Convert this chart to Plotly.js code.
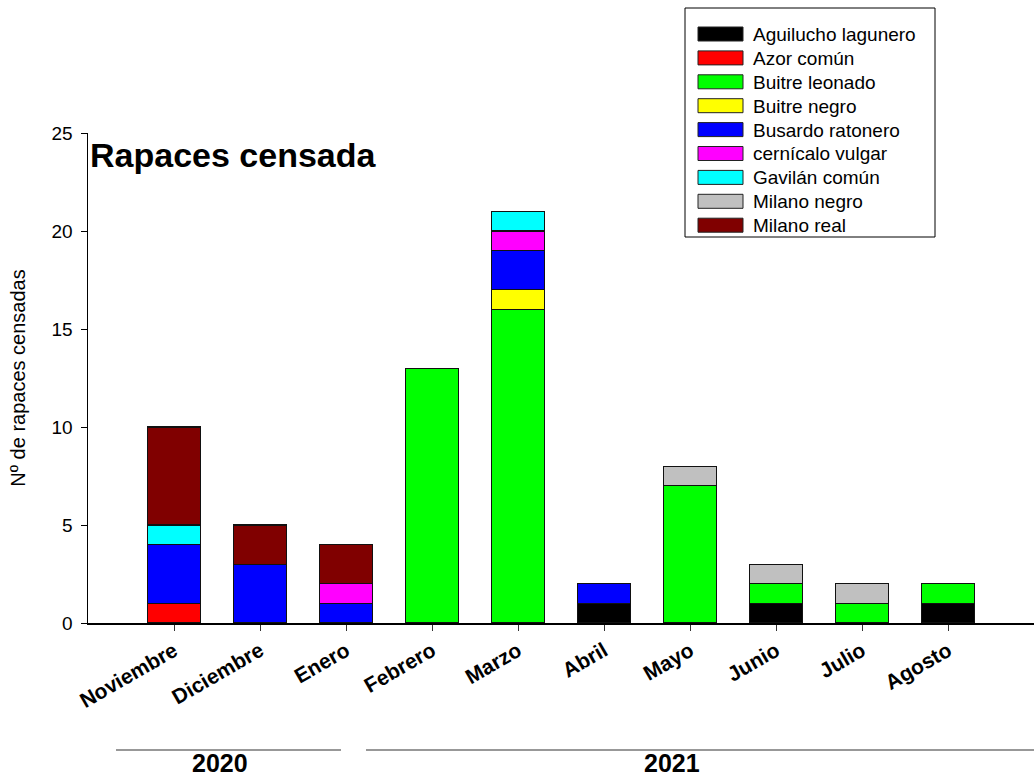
<!DOCTYPE html>
<html>
<head>
<meta charset="utf-8">
<script src="https://cdn.plot.ly/plotly-3.0.1.min.js"></script>
<style>html,body{margin:0;padding:0;background:#fff;}#chart{width:1034px;height:778px;}</style>
</head>
<body>
<div id="chart"></div>
<script>
const months = ["Noviembre","Diciembre","Enero","Febrero","Marzo","Abril","Mayo","Junio","Julio","Agosto"];
const species = ["Aguilucho lagunero","Azor común","Buitre leonado","Buitre negro","Busardo ratonero","cernícalo vulgar","Gavilán común","Milano negro","Milano real"];
const colors = ["#000000","#ff0000","#00ff00","#ffff00","#0000ff","#ff00ff","#00ffff","#c0c0c0","#800000"];
const aguilucho = [0,0,0,0,0,1,0,1,0,1];
const azor      = [1,0,0,0,0,0,0,0,0,0];
const leonado   = [0,0,0,13,16,0,7,1,1,1];
const bnegro    = [0,0,0,0,1,0,0,0,0,0];
const busardo   = [3,3,1,0,2,1,0,0,0,0];
const cernicalo = [0,0,1,0,1,0,0,0,0,0];
const gavilan   = [1,0,0,0,1,0,0,0,0,0];
const mnegro    = [0,0,0,0,0,0,1,1,1,0];
const mreal     = [5,2,2,0,0,0,0,0,0,0];
const series = [aguilucho, azor, leonado, bnegro, busardo, cernicalo, gavilan, mnegro, mreal];
const years = ["2020","2021"];

const FONT = 'Arial, "Liberation Sans", sans-serif';
const W = 1034, H = 778, L = 88, R = 0, T = 133, B = 155;
const pw = W - L - R, ph = H - T - B;
const px = x => (x - L) / pw;
const py = y => (H - B - y) / ph;

const traces = series.map((vals, i) => ({
  type: 'bar', x: months, y: vals, name: species[i],
  marker: {color: colors[i], line: {color: '#111', width: 1.3}},
  width: 0.62, showlegend: false, hoverinfo: 'x+y+name'
}));

const shapes = [];
const annotations = [];
// legend box
shapes.push({type:'rect', xref:'paper', yref:'paper', x0:px(685), x1:px(935), y0:py(237), y1:py(8),
  line:{color:'#000', width:1}, fillcolor:'#fff', layer:'above'});
species.forEach((s, i) => {
  const cy = 34 + i * 23.9;
  shapes.push({type:'rect', xref:'paper', yref:'paper', x0:px(698), x1:px(743), y0:py(cy+7), y1:py(cy-7),
    line:{color:'#222', width:1}, fillcolor:colors[i], layer:'above'});
  annotations.push({xref:'paper', yref:'paper', x:px(751), y:py(cy+0.5), xanchor:'left', yanchor:'middle',
    text:s, showarrow:false, font:{family:FONT, size:19, color:'#000'}});
});
// title
annotations.push({xref:'paper', yref:'paper', x:px(88), y:py(155), xanchor:'left', yanchor:'middle',
  text:'<b>Rapaces censada</b>', showarrow:false, font:{family:FONT, size:34, color:'#000'}});
// year groups
shapes.push({type:'line', xref:'paper', yref:'paper', x0:px(116), x1:px(341), y0:py(750), y1:py(750), line:{color:'#333', width:1.2}});
shapes.push({type:'line', xref:'paper', yref:'paper', x0:px(366), x1:px(1034), y0:py(750), y1:py(750), line:{color:'#333', width:1.2}});
annotations.push({xref:'paper', yref:'paper', x:px(220), y:py(778), xanchor:'center', yanchor:'bottom',
  text:'<b>'+years[0]+'</b>', showarrow:false, font:{family:FONT, size:25, color:'#000'}, borderpad:0});
annotations.push({xref:'paper', yref:'paper', x:px(672), y:py(778), xanchor:'center', yanchor:'bottom',
  text:'<b>'+years[1]+'</b>', showarrow:false, font:{family:FONT, size:25, color:'#000'}, borderpad:0});

const layout = {
  width: W, height: H,
  margin: {l: L, r: R, t: T, b: B, pad: 0},
  paper_bgcolor: '#fff', plot_bgcolor: '#fff',
  barmode: 'stack',
  showlegend: false,
  font: {family: FONT, color: '#000'},
  xaxis: {
    type: 'category', range: [-1, 10], showgrid: false, zeroline: false,
    showline: true, linecolor: '#000', linewidth: 1.5,
    ticks: 'outside', ticklen: 6, tickwidth: 1, tickcolor: '#333',
    tickangle: -30, tickfont: {family: FONT, size: 21, weight: 'bold', color: '#000'},
    fixedrange: true
  },
  yaxis: {
    range: [0, 25], tickvals: [0,5,10,15,20,25], showgrid: false, zeroline: false,
    showline: true, linecolor: '#000', linewidth: 1.5,
    ticks: 'outside', ticklen: 6, tickwidth: 1, tickcolor: '#000',
    ticklabelstandoff: 4,
    tickfont: {family: FONT, size: 19, color: '#000'},
    title: {text: 'Nº de rapaces censadas', font: {family: FONT, size: 20, color: '#000'}, standoff: 20},
    fixedrange: true
  },
  shapes: shapes,
  annotations: annotations
};

Plotly.newPlot('chart', traces, layout, {displayModeBar: false, staticPlot: true});
</script>
</body>
</html>
